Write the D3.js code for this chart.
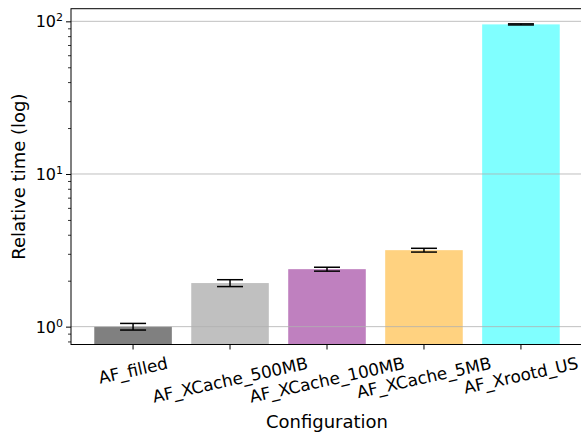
<!DOCTYPE html>
<html>
<head>
<meta charset="utf-8">
<script src="https://cdn.jsdelivr.net/npm/d3@7/dist/d3.min.js"></script>
<style>
  html, body { margin: 0; padding: 0; background: #fff; }
  svg { display: block; font-family: "DejaVu Sans", sans-serif; }
</style>
</head>
<body>
<svg id="chart" width="581" height="436"></svg>
<script>
const categories = ["AF_filled", "AF_XCache_500MB", "AF_XCache_100MB", "AF_XCache_5MB", "AF_Xrootd_US"];
const values = [1.0, 1.93, 2.38, 3.17, 95.5];
const errors = [0.05, 0.1, 0.07, 0.09, 0.8];
const colors = ["#808080", "#c0c0c0", "#bf80bf", "#ffd280", "#80ffff"];
const yMajorTicks = [1, 10, 100];
const yTickExponents = ["0", "1", "2"];
const xLabel = "Configuration";
const yLabel = "Relative time (log)";

const svg = d3.select("#chart");
const mLeft = 71, mRight = 583, mTop = 8.7, mBottom = 344.5;

const x = d3.scaleBand().domain(categories).range([mLeft, mRight])
  .paddingInner(0.2).paddingOuter(0.24);
const y = d3.scaleLog().domain([0.764, 121]).range([mBottom, mTop]);

// bars
svg.append("g").selectAll("rect").data(categories).join("rect")
  .attr("x", d => x(d))
  .attr("width", x.bandwidth())
  .attr("y", (d, i) => y(values[i]))
  .attr("height", (d, i) => mBottom - y(values[i]))
  .attr("fill", (d, i) => colors[i]);

// grid (drawn over bars)
svg.append("g").selectAll("line").data(yMajorTicks).join("line")
  .attr("x1", mLeft).attr("x2", mRight)
  .attr("y1", d => y(d)).attr("y2", d => y(d))
  .attr("stroke", "#b0b0b0").attr("stroke-opacity", 0.8).attr("stroke-width", 1);

// error bars
const eg = svg.append("g").attr("stroke", "#000").attr("stroke-width", 1.5);
categories.forEach((c, i) => {
  const cx = x(c) + x.bandwidth() / 2;
  const y1 = y(values[i] + errors[i]), y0 = y(values[i] - errors[i]);
  eg.append("line").attr("x1", cx).attr("x2", cx).attr("y1", y1).attr("y2", y0);
  eg.append("line").attr("x1", cx - 13).attr("x2", cx + 13).attr("y1", y1).attr("y2", y1);
  eg.append("line").attr("x1", cx - 13).attr("x2", cx + 13).attr("y1", y0).attr("y2", y0);
});

// minor ticks
const minor = [];
[0.1, 1, 10].forEach(b => { for (let k = 2; k <= 9; k++) { const v = b * k; if (v >= 0.764 && v <= 121) minor.push(v); } });
const minorAxis = d3.axisLeft(y).tickValues(minor).tickSize(3).tickFormat("");
svg.append("g").attr("transform", `translate(${mLeft},0)`).call(minorAxis)
  .call(g => g.select(".domain").remove())
  .selectAll("line").attr("stroke-width", 0.8);

const majorAxis = d3.axisLeft(y).tickValues(yMajorTicks).tickSize(5).tickFormat("");
svg.append("g").attr("transform", `translate(${mLeft},0)`).call(majorAxis)
  .call(g => g.select(".domain").remove())
  .selectAll("line").attr("stroke-width", 1);

// y tick labels
const yl = svg.append("g").selectAll("text").data(yMajorTicks).join("text")
  .attr("x", 63).attr("y", d => y(d) + 6)
  .attr("text-anchor", "end").attr("font-size", 16).attr("fill", "#000");
yl.append("tspan").text("10");
yl.append("tspan").text((d, i) => yTickExponents[i]).attr("font-size", 11).attr("dy", -6);

// x axis ticks
const xAxis = d3.axisBottom(x).tickSize(5).tickFormat("");
svg.append("g").attr("transform", `translate(0,${mBottom})`).call(xAxis)
  .call(g => g.select(".domain").remove())
  .selectAll("line").attr("stroke-width", 1);

// x tick labels rotated
const angDeg = 12.5;
const ang = angDeg * Math.PI / 180;
const fs = 16.8;
categories.forEach(c => {
  const cx = x(c) + x.bandwidth() / 2;
  const t = svg.append("text").text(c).attr("font-size", fs)
    .attr("text-anchor", "middle").attr("dominant-baseline", "central").attr("fill", "#000");
  const w = t.node().getComputedTextLength();
  const h = fs * 1.0;
  const bh = w * Math.sin(ang) + h * Math.cos(ang);
  const cy = mBottom + 10 + bh / 2;
  t.attr("x", cx).attr("y", cy).attr("transform", `rotate(${-angDeg},${cx},${cy})`);
});

// frame
svg.append("rect").attr("x", mLeft).attr("y", mTop).attr("width", mRight - mLeft).attr("height", mBottom - mTop)
  .attr("fill", "none").attr("stroke", "#000").attr("stroke-width", 1);

// axis labels
svg.append("text").text(xLabel).attr("x", 327).attr("y", 428)
  .attr("text-anchor", "middle").attr("font-size", 18).attr("fill", "#000");
svg.append("text").text(yLabel)
  .attr("transform", `translate(25,${(mTop + mBottom) / 2}) rotate(-90)`)
  .attr("text-anchor", "middle").attr("font-size", 18).attr("fill", "#000");
</script>
</body>
</html>
